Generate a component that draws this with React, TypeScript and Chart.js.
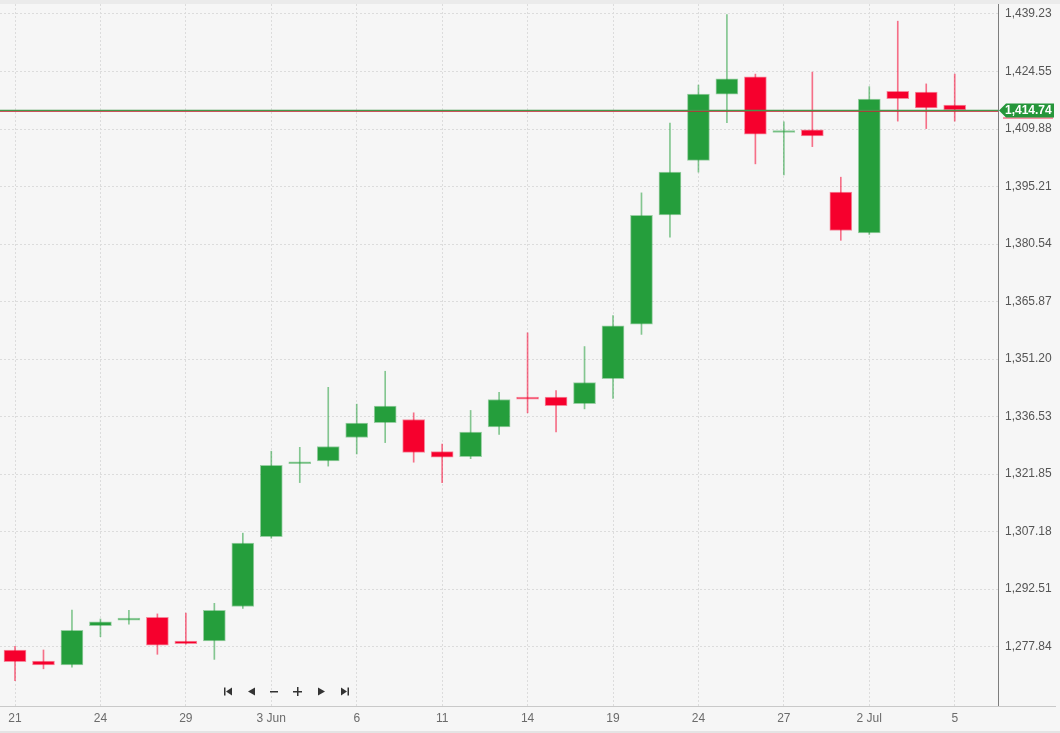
import React, { useEffect, useRef } from 'react';
import { Chart, registerables } from 'chart.js';

Chart.register(...registerables);

// Trading days, 21 May – 5 Jul
const days = ['21 May','22 May','23 May','24 May','27 May','28 May','29 May','30 May','31 May',
  '3 Jun','4 Jun','5 Jun','6 Jun','7 Jun','10 Jun','11 Jun','12 Jun','13 Jun','14 Jun','17 Jun',
  '18 Jun','19 Jun','20 Jun','21 Jun','24 Jun','25 Jun','26 Jun','27 Jun','28 Jun',
  '1 Jul','2 Jul','3 Jul','4 Jul','5 Jul'];

const opens = [1277.0,1274.2,1273.2,1283.2,1284.6,1285.3,1279.3,1279.3,1288.1,1305.9,1324.5,1325.2,1331.2,1335.0,1335.8,1327.6,1326.3,1333.9,1341.3,1341.5,1339.8,1346.2,1360.1,1388.0,1401.9,1418.75,1423.2,1409.0,1409.7,1393.8,1383.4,1419.5,1419.3,1416.0];
const highs = [1277.9,1277.0,1287.2,1284.9,1287.1,1286.2,1286.4,1288.9,1306.8,1327.7,1328.7,1344.0,1339.7,1348.1,1337.5,1329.5,1338.1,1342.7,1357.9,1343.2,1354.4,1362.3,1393.6,1411.4,1421.1,1439.05,1423.9,1411.7,1424.4,1397.6,1420.7,1437.4,1421.4,1423.9];
const lows = [1269.2,1272.2,1272.6,1280.4,1283.6,1275.9,1278.5,1274.6,1287.6,1305.5,1319.7,1323.9,1327.0,1329.9,1324.9,1319.7,1325.8,1332.0,1337.5,1332.6,1338.5,1341.2,1357.5,1382.3,1398.9,1411.5,1401.0,1398.2,1405.4,1381.5,1383.0,1411.9,1410.0,1411.9];
const closes = [1274.0,1273.2,1282.0,1284.2,1284.9,1278.2,1278.6,1287.1,1304.3,1324.1,1324.9,1328.9,1334.9,1339.2,1327.4,1326.2,1332.6,1340.9,1341.0,1339.3,1345.2,1359.7,1387.9,1398.9,1418.8,1422.7,1408.6,1409.4,1408.1,1384.0,1417.5,1417.6,1415.3,1414.74];

const yTicks = [1277.84,1292.51,1307.18,1321.85,1336.53,1351.20,1365.87,1380.54,1395.21,1409.88,1424.55,1439.23];
const xTickIndex = [0,3,6,9,12,15,18,21,24,27,30,33];
const xTickLabels = ['21','24','29','3 Jun','6','11','14','19','24','27','2 Jul','5'];
const lastPrice = 1414.74;

const UP = 'rgb(37,158,60)';
const DOWN = 'rgb(246,0,45)';
const UP_EDGE = 'rgba(37,158,60,0.45)';
const DOWN_EDGE = 'rgba(246,0,45,0.45)';
const UP_WICK = 'rgba(37,158,60,0.55)';
const DOWN_WICK = 'rgba(246,0,45,0.55)';
const FONT = '"Liberation Sans", Arial, sans-serif';

const fmt = (v: number) =>
  v.toLocaleString('en-US', { minimumFractionDigits: 2, maximumFractionDigits: 2 });

const bgPlugin = {
  id: 'bgPlugin',
  beforeDraw(chart: any) {
    const { ctx, width, height } = chart;
    ctx.save();
    ctx.fillStyle = '#f6f6f6';
    ctx.fillRect(0, 0, width, height);
    ctx.fillStyle = '#ebebeb';
    ctx.fillRect(0, 0, width, 4);
    ctx.fillStyle = '#e4e4e4';
    ctx.fillRect(0, 731, width, 2);
    ctx.restore();
  },
};

const overlayPlugin = {
  id: 'overlayPlugin',
  afterDraw(chart: any) {
    const { ctx, chartArea } = chart;
    const y = chart.scales.y;
    ctx.save();
    // axis lines
    ctx.strokeStyle = '#c9c9c9';
    ctx.lineWidth = 1;
    ctx.beginPath();
    ctx.moveTo(0, chartArea.bottom + 0.5);
    ctx.lineTo(1056, chartArea.bottom + 0.5);
    ctx.stroke();
    ctx.strokeStyle = '#7d7d7d';
    ctx.beginPath();
    ctx.moveTo(chartArea.right + 0.5, chartArea.top);
    ctx.lineTo(chartArea.right + 0.5, chartArea.bottom);
    ctx.stroke();

    // last price line
    const py = Math.round(y.getPixelForValue(lastPrice));
    ctx.strokeStyle = 'rgba(246,0,45,0.75)';
    ctx.lineWidth = 1;
    ctx.beginPath();
    ctx.moveTo(0, py + 1.5);
    ctx.lineTo(chartArea.right, py + 1.5);
    ctx.stroke();
    ctx.strokeStyle = 'rgb(70,150,75)';
    ctx.lineWidth = 1.5;
    ctx.beginPath();
    ctx.moveTo(0, py + 0.5);
    ctx.lineTo(chartArea.right, py + 0.5);
    ctx.stroke();

    // price label
    const x0 = chartArea.right + 1;
    const top = py - 6.5;
    const bot = py + 7.5;
    ctx.fillStyle = 'rgba(246,0,45,0.8)';
    ctx.fillRect(x0 + 4, bot, 50, 1);
    ctx.fillStyle = 'rgb(37,150,58)';
    ctx.beginPath();
    ctx.moveTo(x0, py + 0.5);
    ctx.lineTo(x0 + 7, top);
    ctx.lineTo(x0 + 55, top);
    ctx.lineTo(x0 + 55, bot);
    ctx.lineTo(x0 + 7, bot);
    ctx.closePath();
    ctx.fill();
    ctx.fillStyle = '#ffffff';
    ctx.font = 'bold 12px ' + FONT;
    ctx.textBaseline = 'middle';
    ctx.textAlign = 'left';
    ctx.fillText(fmt(lastPrice), x0 + 6, py + 1);

    // navigation icons
    const cy = 691.5;
    ctx.fillStyle = '#333333';
    // |◀
    ctx.fillRect(224, cy - 4, 1.5, 8);
    ctx.beginPath();
    ctx.moveTo(226, cy); ctx.lineTo(232, cy - 4); ctx.lineTo(232, cy + 4); ctx.closePath(); ctx.fill();
    // ◀
    ctx.beginPath();
    ctx.moveTo(248, cy); ctx.lineTo(255, cy - 4); ctx.lineTo(255, cy + 4); ctx.closePath(); ctx.fill();
    // −
    ctx.fillRect(270, cy - 0.5, 8, 1.5);
    // +
    ctx.fillRect(293, cy - 0.5, 9, 1.5);
    ctx.fillRect(297, cy - 4.5, 1.5, 9);
    // ▶
    ctx.beginPath();
    ctx.moveTo(325, cy); ctx.lineTo(318, cy - 4); ctx.lineTo(318, cy + 4); ctx.closePath(); ctx.fill();
    // ▶|
    ctx.beginPath();
    ctx.moveTo(347, cy); ctx.lineTo(341, cy - 4); ctx.lineTo(341, cy + 4); ctx.closePath(); ctx.fill();
    ctx.fillRect(347.5, cy - 4, 1.5, 8);
    ctx.restore();
  },
};

export default function App() {
  const ref = useRef<HTMLCanvasElement | null>(null);

  useEffect(() => {
    if (!ref.current) return;
    const isUp = closes.map((c, i) => c >= opens[i]);
    const bodies = days.map((_, i) => ({ x: i, y: [opens[i], closes[i]] }));
    const wicks = days.map((_, i) => ({ x: i, y: [lows[i], highs[i]] }));

    const chart = new Chart(ref.current, {
      type: 'bar',
      data: {
        datasets: [
          {
            label: 'Body',
            data: bodies as any,
            grouped: false,
            barThickness: 22,
            minBarLength: 2,
            borderWidth: 1,
            borderSkipped: false,
            backgroundColor: isUp.map((u) => (u ? UP : DOWN)),
            borderColor: isUp.map((u) => (u ? UP_EDGE : DOWN_EDGE)),
          } as any,
          {
            label: 'Wick',
            data: wicks as any,
            grouped: false,
            barThickness: 1,
            borderWidth: 0,
            backgroundColor: isUp.map((u) => (u ? UP_WICK : DOWN_WICK)),
          } as any,
        ],
      },
      options: {
        animation: false,
        responsive: false,
        maintainAspectRatio: false,
        layout: { padding: { top: 4, bottom: 2, left: 0, right: 0 } },
        plugins: { legend: { display: false }, tooltip: { enabled: false } },
        scales: {
          x: {
            type: 'linear',
            offset: false,
            min: -0.527,
            max: 34.52,
            afterBuildTicks: (axis: any) => {
              axis.ticks = xTickIndex.map((v) => ({ value: v }));
            },
            afterFit: (axis: any) => {
              axis.height = 25;
              axis.paddingLeft = 0;
              axis.paddingRight = 0;
            },
            ticks: {
              autoSkip: false,
              maxRotation: 0,
              padding: 5,
              color: '#6b6b6b',
              font: { family: FONT, size: 12 },
              callback: (v: any) => {
                const k = xTickIndex.indexOf(Number(v));
                return k >= 0 ? xTickLabels[k] : '';
              },
            },
            grid: { color: '#dcdcdc', lineWidth: 1, drawTicks: false, offset: false },
            border: { display: false, dash: [2, 2] },
          },
          y: {
            type: 'linear',
            position: 'right',
            min: 1262.71,
            max: 1441.78,
            afterBuildTicks: (axis: any) => {
              axis.ticks = yTicks.map((v) => ({ value: v }));
            },
            afterFit: (axis: any) => {
              axis.width = 62;
              axis.paddingTop = 0;
              axis.paddingBottom = 0;
            },
            ticks: {
              padding: 7,
              color: '#555555',
              font: { family: FONT, size: 12 },
              callback: (v: any) => fmt(Number(v)),
            },
            grid: { color: '#dcdcdc', lineWidth: 1, drawTicks: false, offset: false },
            border: { display: false, dash: [2, 2] },
          },
        },
      } as any,
      plugins: [bgPlugin, overlayPlugin],
    });
    return () => chart.destroy();
  }, []);

  return (
    <div style={{ position: 'fixed', left: 0, top: 0, width: 1060, height: 733, background: '#f6f6f6' }}>
      <canvas ref={ref} width={1060} height={733} style={{ display: 'block', width: 1060, height: 733 }} />
    </div>
  );
}
